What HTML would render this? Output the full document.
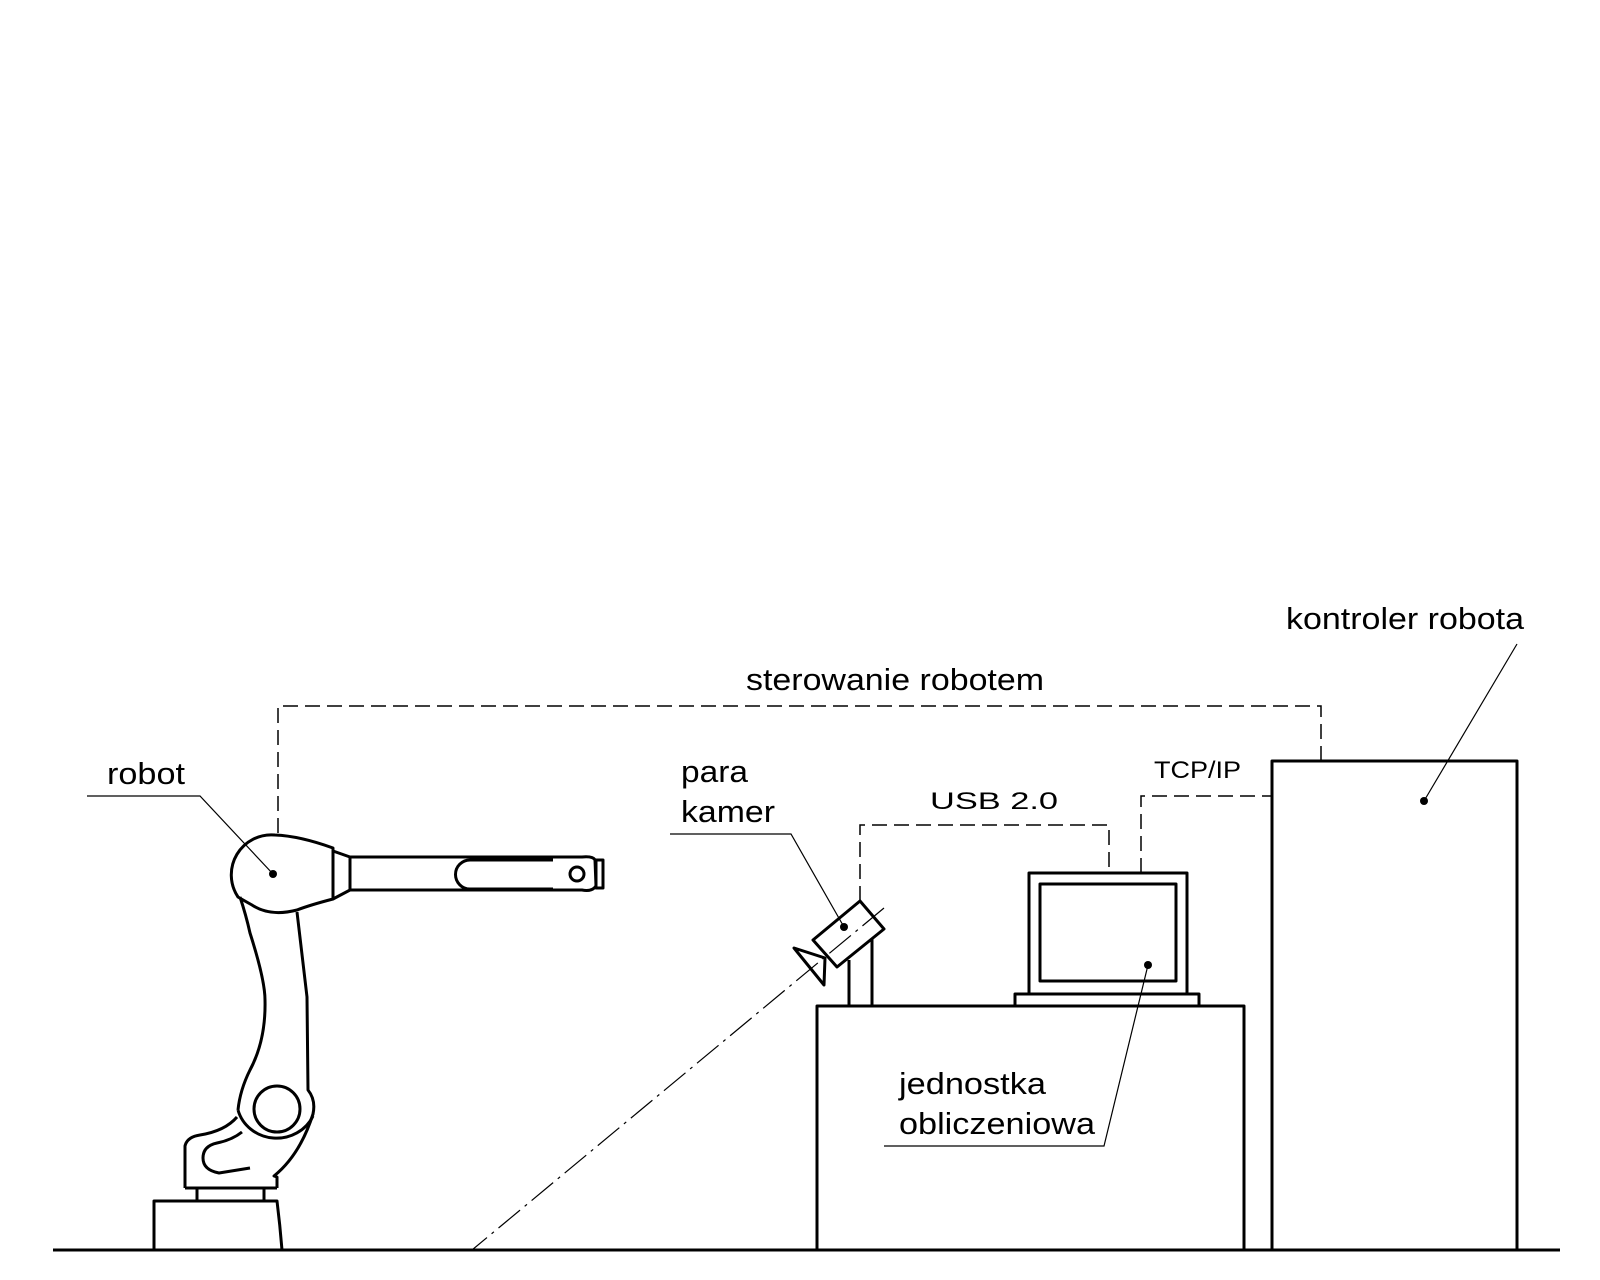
<!DOCTYPE html>
<html><head><meta charset="utf-8"><style>
html,body{margin:0;padding:0;background:#fff;}
svg{display:block;}
text{font-family:"Liberation Sans",Arial,sans-serif;fill:#000;}
</style></head><body>
<svg width="1600" height="1280" viewBox="0 0 1600 1280" xmlns="http://www.w3.org/2000/svg">
<g fill="none" stroke="#000" stroke-width="3" stroke-linejoin="round">
<!-- ground -->
<line x1="53" y1="1250" x2="1560" y2="1250"/>
<!-- table -->
<rect x="817" y="1006" width="427" height="244"/>
<!-- controller -->
<rect x="1272" y="761" width="245" height="489"/>
<!-- laptop -->
<rect x="1015" y="994" width="184" height="12"/>
<rect x="1029" y="873" width="158" height="121"/>
<rect x="1040" y="884" width="136" height="97"/>
<!-- camera stand -->
<line x1="849" y1="960" x2="849" y2="1006"/>
<line x1="872" y1="938" x2="872" y2="1006"/>
<!-- camera -->
<polygon points="860,901 884,929 837,967 813,940"/>
<polygon points="794,948 825,958 824,985"/>
<!-- robot base -->
<path d="M154,1250 L154,1201 L277,1201 Q280,1225 282,1250"/>
<rect x="197" y="1188" width="67" height="13"/>
<path d="M185,1188 L277,1188"/>
<path d="M185,1188 L185,1146 Q187,1137 200,1135 Q225,1131 237,1117"/>
<path d="M277,1188 L277,1177 L274,1176 Q300,1155 313,1114 Q316,1100 308,1090 L307,997 L297,912"/>
<path d="M250,1168 L219,1173 Q203,1170 203,1158 Q203,1146 217,1143 Q232,1140 242,1132"/>
<path d="M240,897 Q246,915 250,933 Q265,980 265,1000 Q266,1040 250,1070 Q240,1090 238,1110"/>
<circle cx="277" cy="1109" r="23"/>
<path d="M238,1110 A40 38 0 0 0 313,1116"/>
<!-- shoulder head -->
<path d="M238,897 A40 40 0 0 1 275,835 Q300,836 333,848 L333,899 Q310,905 297,910 Q270,917 252,905 Q243,900 238,897 Z"/>
<path d="M333,851 L350,857 L350,890 L333,899"/>
<!-- forearm -->
<path d="M350,857 L582,857 Q593,856 595,860 L596,886 Q592,892 582,890 L350,890"/>
<path d="M553,860 L470,860 A14.5 14.5 0 0 0 470,889 L553,889"/>
<circle cx="577" cy="874" r="7"/>
<rect x="596" y="860" width="7" height="28"/>
</g>
<!-- dashed lines -->
<g fill="none" stroke="#000" stroke-width="1.5" stroke-dasharray="15,7">
<polyline points="278,833 278,706 1321,706 1321,761"/>
<polyline points="860,901 860,825 1109,825 1109,873"/>
<polyline points="1141,873 1141,796 1272,796"/>
</g>
<line x1="884" y1="908" x2="472" y2="1250" stroke="#000" stroke-width="1.2" stroke-dasharray="28,6,3,6"/>
<!-- leaders -->
<g fill="none" stroke="#000" stroke-width="1.2">
<polyline points="87,796 200,796 273,874"/>
<polyline points="670,834 791,834 844,927"/>
<polyline points="884,1146 1104,1146 1148,965"/>
<polyline points="1517,644 1424,801"/>
</g>
<g fill="#000">
<circle cx="273" cy="874" r="4"/>
<circle cx="844" cy="927" r="4"/>
<circle cx="1148" cy="965" r="4"/>
<circle cx="1424" cy="801" r="4"/>
</g>
<g font-size="31">
<text x="746" y="690" textLength="298" lengthAdjust="spacingAndGlyphs">sterowanie robotem</text>
<text x="1286" y="629" textLength="238" lengthAdjust="spacingAndGlyphs">kontroler robota</text>
<text x="107" y="784" textLength="78" lengthAdjust="spacingAndGlyphs">robot</text>
<text x="681" y="782" textLength="67" lengthAdjust="spacingAndGlyphs">para</text>
<text x="681" y="822" textLength="94" lengthAdjust="spacingAndGlyphs">kamer</text>
<text x="899" y="1094" textLength="147" lengthAdjust="spacingAndGlyphs">jednostka</text>
<text x="899" y="1134" textLength="196" lengthAdjust="spacingAndGlyphs">obliczeniowa</text>
</g>
<text x="930" y="809" font-size="24" textLength="128" lengthAdjust="spacingAndGlyphs">USB 2.0</text>
<text x="1154" y="778" font-size="24" textLength="87" lengthAdjust="spacingAndGlyphs">TCP/IP</text>
</svg>
</body></html>
